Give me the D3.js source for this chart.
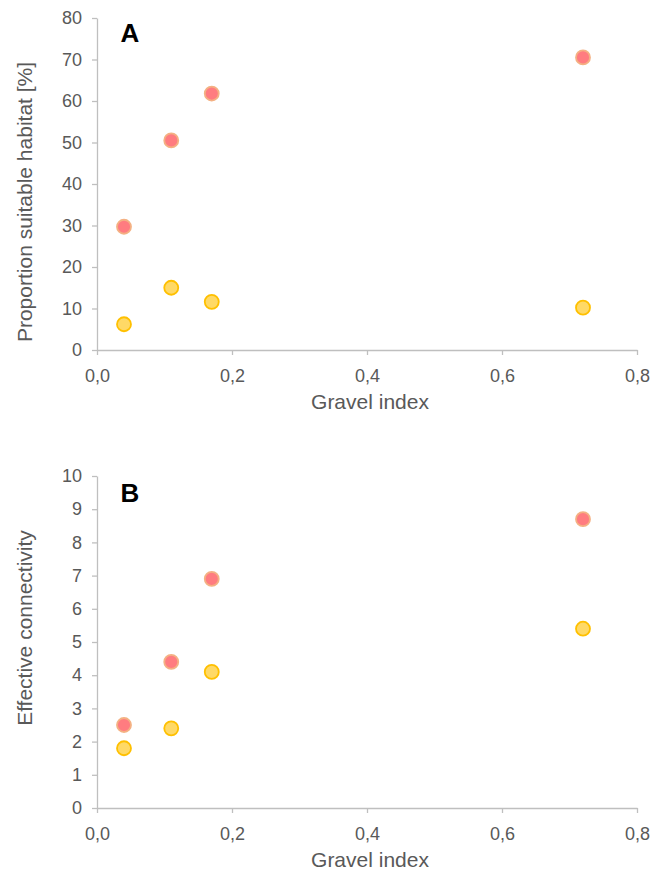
<!DOCTYPE html>
<html><head><meta charset="utf-8">
<script src="https://cdn.jsdelivr.net/npm/d3@7"></script>
<style>
html,body{margin:0;padding:0;background:#fff;}
svg text{font-family:"Liberation Sans",Arial,sans-serif;}
</style></head>
<body><svg id="c" width="657" height="872"></svg>
<script>
const gravelIndex = [0.04, 0.11, 0.17, 0.72];
const habitatRed = [29.7, 50.5, 61.8, 70.5];
const habitatYellow = [6.2, 15.0, 11.6, 10.2];
const connRed = [2.5, 4.4, 6.9, 8.7];
const connYellow = [1.8, 2.4, 4.1, 5.4];
const xTicks = [0, 0.2, 0.4, 0.6, 0.8];
const yTicksA = [0, 10, 20, 30, 40, 50, 60, 70, 80];
const yTicksB = [0, 1, 2, 3, 4, 5, 6, 7, 8, 9, 10];

const svg = d3.select("#c");
const fmtX = d => d3.format(".1f")(d).replace(".", ",");
const axisColor = "#bfbfbf", textColor = "#595959";
const red = {fill:"#ff7c80", stroke:"#f4b183"};
const yel = {fill:"#ffd966", stroke:"#ffc000"};

function panel(opt){
  const x = d3.scaleLinear().domain([0,0.8]).range([97,637]);
  const y = d3.scaleLinear().domain(opt.domain).range([opt.bottom, opt.top]);
  const g = svg.append("g");
  const gx = g.append("g").attr("transform",`translate(0,${opt.bottom})`)
    .call(d3.axisBottom(x).tickValues(xTicks).tickFormat(fmtX).tickSize(5).tickSizeOuter(0));
  const gy = g.append("g").attr("transform",`translate(97,0)`)
    .call(d3.axisLeft(y).tickValues(opt.ticks).tickFormat(d=>d).tickSize(5).tickSizeOuter(0));
  [gx,gy].forEach(a=>{
    a.selectAll("path,line").attr("stroke",axisColor).attr("stroke-width",1.3);
    a.selectAll("text").attr("fill",textColor).attr("font-size",18);
  });
  gx.selectAll("text").attr("y",31.5).attr("dy","0");
  gy.selectAll("text").attr("x",-15);
  g.append("text").attr("x",370).attr("y",opt.bottom+59).attr("text-anchor","middle")
    .attr("fill",textColor).attr("font-size",21).text("Gravel index");
  g.append("text").attr("transform",`translate(32,${opt.ytitleC}) rotate(-90)`)
    .attr("text-anchor","middle").attr("fill",textColor).attr("font-size",21).text(opt.ytitle);
  g.append("text").attr("x",130).attr("y",opt.labelY).attr("text-anchor","middle")
    .attr("font-weight","bold").attr("font-size",26).attr("fill","#000").text(opt.label);
  [[opt.yel,yel],[opt.red,red]].forEach(([vals,c])=>{
    g.selectAll(null).data(vals).enter().append("circle")
      .attr("cx",(d,i)=>x(gravelIndex[i])).attr("cy",d=>y(d)).attr("r",7)
      .attr("fill",c.fill).attr("stroke",c.stroke).attr("stroke-width",1.8);
  });
}
panel({domain:[0,80],top:18,bottom:350,ticks:yTicksA,ytitle:"Proportion suitable habitat [%]",ytitleC:202,label:"A",labelY:42,red:habitatRed,yel:habitatYellow});
panel({domain:[0,10],top:476,bottom:808,ticks:yTicksB,ytitle:"Effective connectivity",ytitleC:628,label:"B",labelY:502,red:connRed,yel:connYellow});
</script></body></html>
